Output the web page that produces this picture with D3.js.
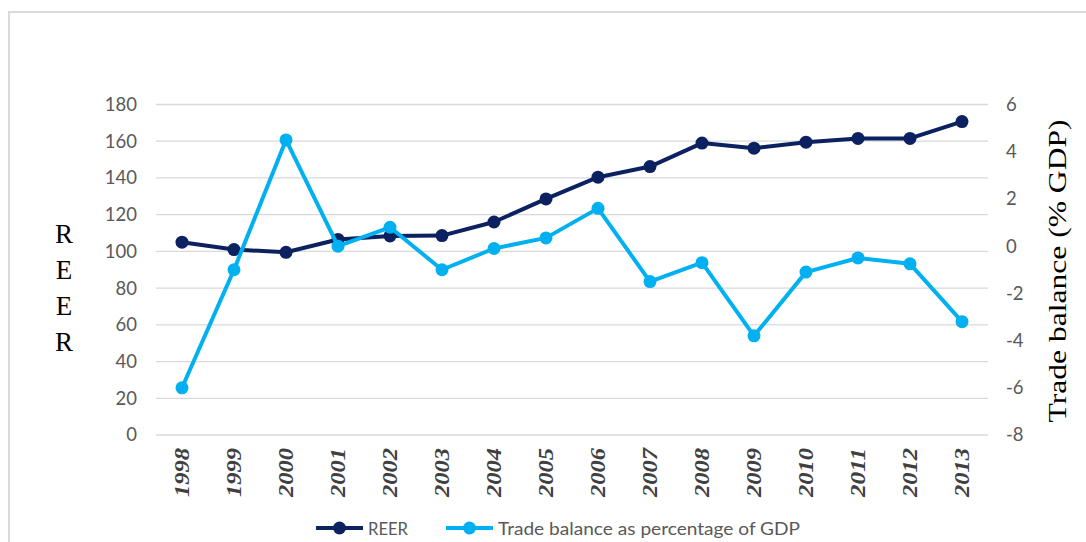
<!DOCTYPE html>
<html lang="en">
<head>
    <meta charset="UTF-8">
    <title>REER and trade balance</title>
    <script src="https://d3js.org/d3.v7.min.js"></script>
    <style>
        body { margin: 0; background: #fff; }
    </style>
</head>
<body>
    <script>
// data
var years = ["1998","1999","2000","2001","2002","2003","2004","2005","2006","2007","2008","2009","2010","2011","2012","2013"];
var reer = [105, 101, 99.5, 106.5, 108.4, 108.6, 116, 128.6, 140.4, 146.2, 159, 156.2, 159.5, 161.5, 161.5, 170.7];
var tradeBalance = [-6.0, -1.0, 4.5, 0.0, 0.8, -1.0, -0.1, 0.35, 1.6, -1.5, -0.7, -3.8, -1.1, -0.5, -0.75, -3.2];
var leftTicks = [0, 20, 40, 60, 80, 100, 120, 140, 160, 180];
var rightTicks = [-8, -6, -4, -2, 0, 2, 4, 6];
var seriesNames = ["REER", "Trade balance as percentage of GDP"];
var seriesColors = ["#0b2160", "#00b0f0"];

var W = 1086, H = 542;
var svg = d3.select("body").append("svg")
    .attr("width", W)
    .attr("height", H);

// outer frame
svg.append("rect")
    .attr("x", 9).attr("y", 12)
    .attr("width", W + 20).attr("height", H + 20)
    .attr("fill", "none")
    .attr("stroke", "#d9d9d9")
    .attr("stroke-width", 2);

var x = d3.scalePoint().domain(years).range([156, 988]).padding(0.5);
var yL = d3.scaleLinear().domain([0, 180]).range([435, 104.5]);
var yR = d3.scaleLinear().domain([-8, 6]).range([435, 104.5]);

// gridlines
svg.append("g").selectAll("line")
    .data(leftTicks)
    .enter().append("line")
    .attr("x1", 156).attr("x2", 988)
    .attr("y1", d => yL(d)).attr("y2", d => yL(d))
    .attr("stroke", "#d9d9d9")
    .attr("stroke-width", 1.3);

// left axis labels
var leftAxis = d3.axisLeft(yL).tickValues(leftTicks).tickSize(0).tickPadding(0);
var gl = svg.append("g").attr("transform", "translate(137,0)").call(leftAxis);
gl.select(".domain").remove();
gl.selectAll("text")
    .attr("fill", "#595959")
    .style("font-family", "Lato, 'Open Sans', sans-serif")
    .style("font-size", "18.5px");

// right axis labels (plain hyphen for negatives, like the original)
var rightAxis = d3.axisRight(yR).tickValues(rightTicks).tickSize(0).tickPadding(0)
    .tickFormat(d => String(d));
var gr = svg.append("g").attr("transform", "translate(1006,0)").call(rightAxis);
gr.select(".domain").remove();
gr.selectAll("text")
    .attr("fill", "#595959")
    .style("font-family", "Lato, 'Open Sans', sans-serif")
    .style("font-size", "18.5px");

// x labels, rotated, bold italic serif
svg.append("g").selectAll("text")
    .data(years)
    .enter().append("text")
    .attr("transform", d => "translate(" + (x(d) + 7) + ",497) rotate(-90)")
    .attr("text-anchor", "start")
    .attr("fill", "#404040")
    .attr("textLength", 49)
    .attr("lengthAdjust", "spacingAndGlyphs")
    .style("font-family", "'Liberation Serif', 'DejaVu Serif', serif")
    .style("font-weight", "bold")
    .style("font-style", "italic")
    .style("font-size", "20px")
    .text(d => d);

// left title, letters stacked
svg.append("g").selectAll("text")
    .data("REER".split(""))
    .enter().append("text")
    .attr("x", 64)
    .attr("y", (d, i) => 243 + i * 36)
    .attr("text-anchor", "middle")
    .attr("fill", "#000")
    .style("font-family", "'Liberation Serif', 'DejaVu Serif', serif")
    .style("font-size", "27px")
    .text(d => d);

// right title
svg.append("text")
    .attr("transform", "translate(1066,271) rotate(-90)")
    .attr("text-anchor", "middle")
    .attr("fill", "#000")
    .attr("textLength", 303)
    .attr("lengthAdjust", "spacingAndGlyphs")
    .style("font-family", "'Liberation Serif', 'DejaVu Serif', serif")
    .style("font-size", "26px")
    .text("Trade balance (% GDP)");

// lines
var lineL = d3.line().x((d, i) => x(years[i])).y(d => yL(d));
var lineR = d3.line().x((d, i) => x(years[i])).y(d => yR(d));

function drawSeries(values, line, scale, color) {
    svg.append("path")
        .datum(values)
        .attr("d", line)
        .attr("fill", "none")
        .attr("stroke", color)
        .attr("stroke-width", 4)
        .attr("stroke-linejoin", "round");
    svg.append("g").selectAll("circle")
        .data(values)
        .enter().append("circle")
        .attr("cx", (d, i) => x(years[i]))
        .attr("cy", d => scale(d))
        .attr("r", 6.5)
        .attr("fill", color);
}
drawSeries(reer, lineL, yL, seriesColors[0]);
drawSeries(tradeBalance, lineR, yR, seriesColors[1]);

// legend
var legendX = [316, 446];
var legendTextLen = [40, 302];
var leg = svg.append("g").selectAll("g")
    .data(seriesNames)
    .enter().append("g")
    .attr("transform", (d, i) => "translate(" + legendX[i] + ",528)");
leg.append("line")
    .attr("x1", 0).attr("x2", 47)
    .attr("stroke", (d, i) => seriesColors[i])
    .attr("stroke-width", 4);
leg.append("circle")
    .attr("cx", 23.5).attr("r", 6.5)
    .attr("fill", (d, i) => seriesColors[i]);
leg.append("text")
    .attr("x", 52).attr("y", 6.5)
    .attr("fill", "#595959")
    .attr("textLength", (d, i) => legendTextLen[i])
    .attr("lengthAdjust", "spacingAndGlyphs")
    .style("font-family", "Lato, 'Open Sans', sans-serif")
    .style("font-size", "18px")
    .text(d => d);
    </script>
</body>
</html>
